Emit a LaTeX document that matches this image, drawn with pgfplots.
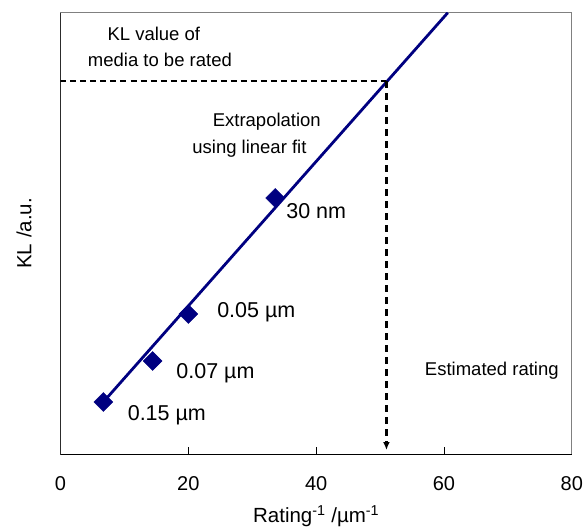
\documentclass[border=0pt]{standalone}
\usepackage{fontspec}
\setmainfont{Liberation Sans}
\usepackage{pgfplots}
\pgfplotsset{compat=1.18}
\usetikzlibrary{arrows.meta}
\definecolor{navyfit}{RGB}{0,0,128}

\begin{document}
\begin{tikzpicture}
\useasboundingbox (-60.5pt,-77pt) rectangle (525.5pt,454pt);
\begin{axis}[
    scale only axis, width=511.3pt, height=441.3pt,
    xmin=0, xmax=80, ymin=0, ymax=441.3,
    xtick={0,20,40,60,80}, ytick=\empty,
    xtick pos=bottom, tick align=inside, major tick length=7pt,
    tick style={black, line width=0.9pt},
    axis line style={gray, line width=0.9pt},
    /pgf/number format/assume math mode=true,
    xticklabel style={font=\fontsize{20}{24}\selectfont, yshift=-19pt},
    xlabel={Rating\textsuperscript{-1} /µm\textsuperscript{-1}},
    xlabel style={font=\fontsize{20.5}{24}\selectfont, at={(axis description cs:0.5,0)}, anchor=center, yshift=-62pt},
    ylabel={KL /a.u.},
    ylabel style={font=\fontsize{20.5}{24}\selectfont, at={(axis description cs:-0.0714,0.5)}, anchor=center},
]
% linear fit
\addplot[navyfit, line width=2.8pt] coordinates {(6.7,52) (60.6,441.3)};
% measured media
\addplot[only marks, mark=square*, mark size=6.7pt, mark options={rotate=45, fill=navyfit, draw=navyfit}]
  coordinates {(6.7,52) (14.4,93) (20.0,140) (33.6,256)};
% guide lines
\addplot[black, line width=1.6pt, dash pattern=on 6pt off 4pt] coordinates {(0,373) (51,373)};
\addplot[black, line width=2.3pt, dash pattern=on 7pt off 5pt, -{Latex[length=8pt,width=7pt]}] coordinates {(51,373) (51,4)};
\draw[black, line width=1pt] (rel axis cs:0,1) -- (rel axis cs:0,0) -- (rel axis cs:1,0);

\begin{scope}[every node/.style={anchor=base west, inner sep=0pt}]
\node[font=\fontsize{18.5}{22}\selectfont] at (axis cs:7.33,413.3) {KL value of};
\node[font=\fontsize{18.5}{22}\selectfont] at (axis cs:4.26,387.3) {media to be rated};
\node[font=\fontsize{18.5}{22}\selectfont] at (axis cs:23.8,327.3) {Extrapolation};
\node[font=\fontsize{18.5}{22}\selectfont] at (axis cs:20.6,300.7) {using linear fit};
\node[font=\fontsize{18.5}{22}\selectfont] at (axis cs:57.0,79) {Estimated rating};
\node[font=\fontsize{21.5}{25}\selectfont] at (axis cs:35.3,235.7) {30 nm};
\node[font=\fontsize{21.5}{25}\selectfont] at (axis cs:24.5,137) {0.05 µm};
\node[font=\fontsize{21.5}{25}\selectfont] at (axis cs:18.1,75.7) {0.07 µm};
\node[font=\fontsize{21.5}{25}\selectfont] at (axis cs:10.5,33.3) {0.15 µm};
\end{scope}
\end{axis}
\end{tikzpicture}
\end{document}
